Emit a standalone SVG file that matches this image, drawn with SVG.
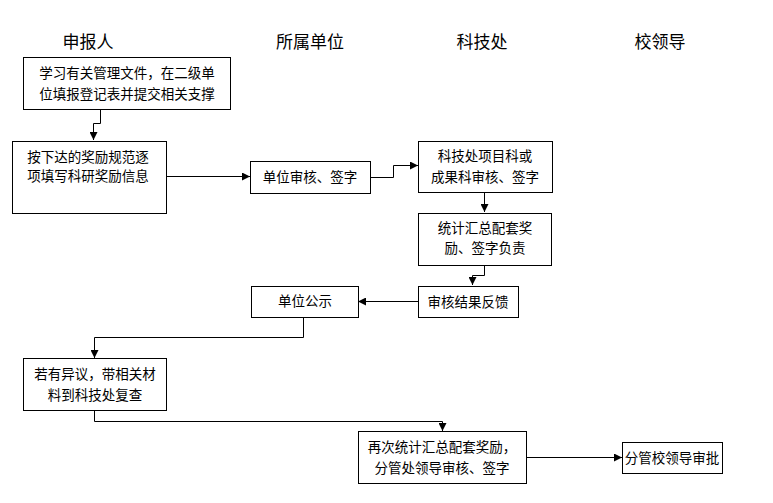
<svg xmlns="http://www.w3.org/2000/svg" width="773" height="503" viewBox="0 0 773 503">
<defs>
<marker id="ah" viewBox="0 0 10 10" refX="10" refY="5" markerWidth="8" markerHeight="8" markerUnits="userSpaceOnUse" orient="auto">
<path d="M0,0 L10,5 L0,10 z" fill="#000"/>
</marker>
<style>
.box{fill:#fff;stroke:#000;stroke-width:1}
.t{font-family:"Noto Sans CJK SC","Liberation Sans",sans-serif;font-size:13.5px;fill:#000;text-anchor:middle}
.h{font-family:"Noto Sans CJK SC","Liberation Sans",sans-serif;font-size:17px;fill:#000;text-anchor:middle}
.c{fill:none;stroke:#000;stroke-width:1;marker-end:url(#ah)}
</style>
</defs>
<rect width="773" height="503" fill="#fff"/>
<g id="headers">
<text class="h" x="88" y="48">申报人</text>
<text class="h" x="310" y="48">所属单位</text>
<text class="h" x="482" y="48">科技处</text>
<text class="h" x="660" y="48">校领导</text>
</g>
<g id="connectors">
<path class="c" d="M100.5,109 V123.5 H93.5 V140"/>
<path class="c" d="M166,176.5 H250"/>
<path class="c" d="M370,177.5 H393.5 V165.5 H418"/>
<path class="c" d="M484.5,192 V212"/>
<path class="c" d="M484.5,265 V275.5 H472.5 V285"/>
<path class="c" d="M418,301.5 H358"/>
<path class="c" d="M303.5,317 V337.5 H94.5 V358"/>
<path class="c" d="M94.5,410 V421.5 H442.5 V431"/>
<path class="c" d="M526,457.5 H622"/>
</g>
<g id="n1"><rect class="box" x="23.5" y="57.5" width="207" height="52"/>
<text class="t" x="127" y="78">学习有关管理文件，在二级单</text>
<text class="t" x="127" y="99">位填报登记表并提交相关支撑</text></g>
<g id="n2"><rect class="box" x="12.5" y="141.5" width="154" height="72"/>
<text class="t" x="88" y="162">按下达的奖励规范逐</text>
<text class="t" x="88" y="181">项填写科研奖励信息</text></g>
<g id="n3"><rect class="box" x="250.5" y="161.5" width="120" height="32"/>
<text class="t" x="310" y="182">单位审核、签字</text></g>
<g id="n4"><rect class="box" x="418.5" y="141.5" width="134" height="51"/>
<text class="t" x="485" y="161">科技处项目科或</text>
<text class="t" x="485" y="182">成果科审核、签字</text></g>
<g id="n5"><rect class="box" x="418.5" y="213.5" width="133" height="52"/>
<text class="t" x="485" y="233">统计汇总配套奖</text>
<text class="t" x="485" y="253">励、签字负责</text></g>
<g id="n6"><rect class="box" x="418.5" y="286.5" width="100" height="31"/>
<text class="t" x="468" y="307">审核结果反馈</text></g>
<g id="n7"><rect class="box" x="251.5" y="286.5" width="107" height="31"/>
<text class="t" x="305" y="306">单位公示</text></g>
<g id="n8"><rect class="box" x="23.5" y="358.5" width="143" height="52"/>
<text class="t" x="95" y="379">若有异议，带相关材</text>
<text class="t" x="95" y="400">料到科技处复查</text></g>
<g id="n9"><rect class="box" x="358.5" y="431.5" width="168" height="52"/>
<text class="t" x="442" y="452">再次统计汇总配套奖励，</text>
<text class="t" x="442" y="473">分管处领导审核、签字</text></g>
<g id="n10"><rect class="box" x="622.5" y="442.5" width="100" height="31"/>
<text class="t" x="672" y="463">分管校领导审批</text></g>
</svg>
